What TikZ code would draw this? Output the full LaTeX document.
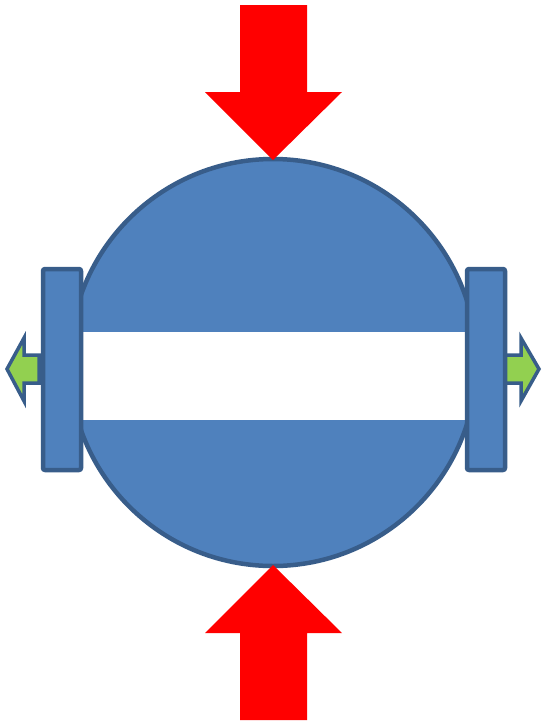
\documentclass[tikz,border=0pt]{standalone}
\begin{document}
\begin{tikzpicture}[x=1pt,y=-1pt,
  blueshape/.style={fill=bfill,draw=bdraw,line width=4.5pt,line join=round},
  greenarrow/.style={fill=garrow,draw=bdraw,line width=3.5pt,line join=miter},
  redarrow/.style={fill=red,draw=none}]
\definecolor{bfill}{HTML}{4F81BD}
\definecolor{bdraw}{HTML}{385D8A}
\definecolor{garrow}{HTML}{92D050}
\useasboundingbox (0,0) rectangle (543,724);
% main disc
\draw[blueshape] (273,362.5) circle (203.5);
% white band
\fill[white] (66,332) rectangle (480,420);
% green arrows
\draw[greenarrow] (39,355) -- (24,355) -- (24,338) -- (7,369) -- (24,401) -- (24,383) -- (39,383) -- cycle;
\draw[greenarrow] (503,355) -- (521,355) -- (521,338) -- (539,369) -- (521,401) -- (521,383) -- (503,383) -- cycle;
% side plates
\draw[blueshape,rounded corners=2pt] (43,269) rectangle (81,470);
\draw[blueshape,rounded corners=2pt] (467,269) rectangle (505,470);
% red arrows
\fill[redarrow] (240,5) -- (307,5) -- (307,92) -- (342,92) -- (273,160) -- (205,92) -- (240,92) -- cycle;
\fill[redarrow] (240,720) -- (307,720) -- (307,633) -- (342,633) -- (273,565) -- (205,633) -- (240,633) -- cycle;
\end{tikzpicture}
\end{document}
